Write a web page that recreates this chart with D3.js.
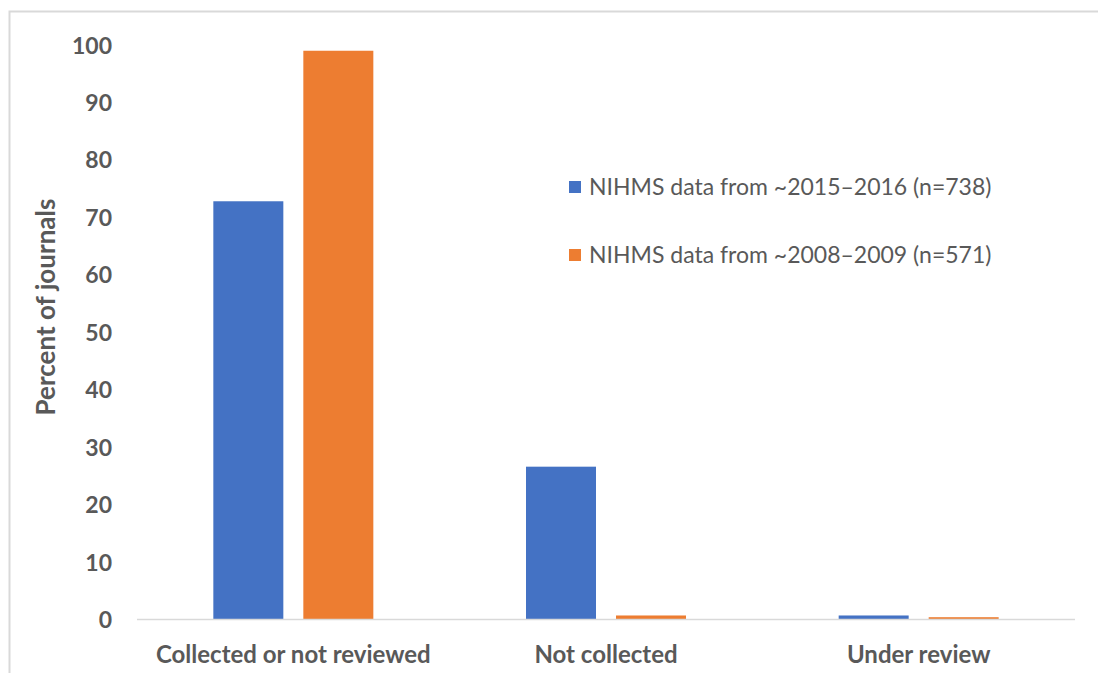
<!DOCTYPE html>
<html><head><meta charset="utf-8">
<script src="https://cdn.jsdelivr.net/npm/d3@7"></script>
<style>body{margin:0;background:#fff}svg{display:block}</style>
</head><body>
<svg id="c" width="1098" height="673"></svg>
<script>
const categories = ["Collected or not reviewed", "Not collected", "Under review"];
const seriesNames = ["NIHMS data from ~2015–2016 (n=738)", "NIHMS data from ~2008–2009 (n=571)"];
const series2015 = [72.8, 26.6, 0.7];
const series2008 = [99.0, 0.7, 0.4];
const yTicks = [0, 10, 20, 30, 40, 50, 60, 70, 80, 90, 100];
const colors = ["#4472C4", "#ED7D31"];

(function(){
const svg = d3.select("#c");
const font = "Lato, 'Open Sans', sans-serif";
const textColor = "#595959";

// frame
svg.append("path").attr("d","M9.5,673 V11.5 H1098").attr("fill","none").attr("stroke","#d9d9d9").attr("stroke-width",2);

const pLeft = 137, pRight = 1075, pTop = 45, pBottom = 619.5;
const x = d3.scaleBand().domain(categories).range([pLeft, pRight]).paddingInner(0).paddingOuter(0);
const y = d3.scaleLinear().domain([0, 100]).range([pBottom, pTop]);
const xs = d3.scaleBand().domain([0,1]).range([0,160]).paddingInner(2/9);

const groups = svg.append("g").selectAll("g").data(categories).join("g")
  .attr("transform", d => `translate(${x(d) + (x.bandwidth()-160)/2},0)`);
const allSeries = [series2015, series2008];
groups.selectAll("rect").data((d,i) => allSeries.map((s,k)=>({k, v:s[i]}))).join("rect")
  .attr("x", d => xs(d.k)).attr("width", xs.bandwidth())
  .attr("y", d => y(d.v)).attr("height", d => pBottom - y(d.v))
  .attr("fill", d => colors[d.k]);

// x axis line
svg.append("line").attr("x1", pLeft).attr("x2", pRight).attr("y1", pBottom).attr("y2", pBottom)
  .attr("stroke", "#d9d9d9").attr("stroke-width", 1.5);

// y tick labels
const yAxis = svg.append("g").attr("transform", `translate(${pLeft-25},0)`)
  .call(d3.axisLeft(y).tickValues(yTicks).tickSize(0).tickPadding(0));
yAxis.select(".domain").remove();
yAxis.selectAll("text").attr("font-family", font).attr("font-size", 23).attr("font-weight", "bold")
  .attr("fill", textColor).attr("dy", "0.35em");

// x labels
const xAxis = svg.append("g").attr("transform", `translate(0,${pBottom})`)
  .call(d3.axisBottom(x).tickSize(0).tickPadding(0));
xAxis.select(".domain").remove();
xAxis.selectAll("text").attr("font-family", font).attr("font-size", 24).attr("font-weight", "bold")
  .attr("fill", textColor).attr("y", 35).attr("dy", "0.35em");

// y title
svg.append("text").attr("transform", "translate(46,307) rotate(-90)").attr("text-anchor","middle")
  .attr("dy","0.35em").attr("font-family", font).attr("font-size", 26).attr("font-weight","bold")
  .attr("fill", textColor).text("Percent of journals");

// legend
const lg = svg.append("g").selectAll("g").data(seriesNames).join("g")
  .attr("transform", (d,i) => `translate(569,${187 + i*68})`);
lg.append("rect").attr("x",0).attr("y",-6).attr("width",12).attr("height",12).attr("fill",(d,i)=>colors[i]);
lg.append("text").attr("x",20).attr("dy","0.35em").attr("font-family",font).attr("font-size",23)
  .attr("fill",textColor).text(d=>d);
})();
</script>
</body></html>
